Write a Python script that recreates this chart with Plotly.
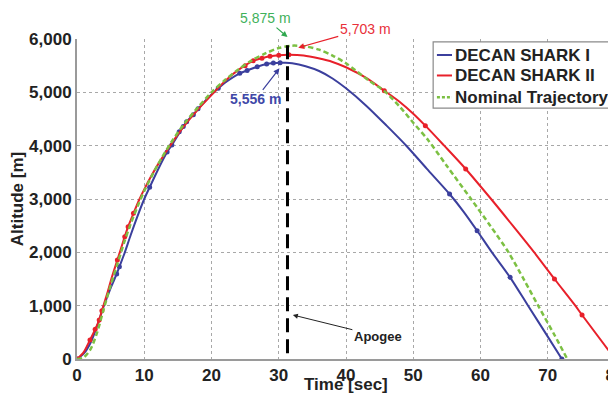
import plotly.graph_objects as go

# ---- data ----
s1_t   = [0, 1, 2, 3, 4, 5, 5.9, 6.3, 7, 8, 9, 10, 10.8, 12, 13.4, 14.1, 16.3, 17.3, 18, 20, 21, 22, 24.2, 25.3, 26.8, 28.2, 29.2, 30.2, 31, 32, 34, 36, 38, 40, 43, 46, 49, 52, 55.4, 57.5, 59.5, 61.7, 64.4, 67.1, 70, 72.1]
s1_alt = [0, 100, 300, 620, 1000, 1330, 1594, 1731, 1960, 2330, 2680, 3000, 3219, 3540, 3881, 4012, 4450, 4580, 4690, 4960, 5075, 5180, 5357, 5410, 5481, 5531, 5548, 5556, 5555, 5545, 5490, 5400, 5260, 5075, 4750, 4380, 3994, 3570, 3094, 2760, 2405, 2000, 1531, 994, 420, 0]
s1_mark_t   = [0, 5.9, 6.3, 10.8, 13.4, 14.1, 15.2, 15.8, 16.3, 17.3, 18, 21, 24.2, 25.3, 26.8, 28.2, 29.2, 30.2, 55.4, 59.5, 64.4, 72.1]
s1_mark_alt = [0, 1594, 1731, 3219, 3881, 4012, 4260, 4360, 4450, 4580, 4690, 5075, 5357, 5410, 5481, 5531, 5548, 5556, 3094, 2405, 1531, 0]

s2_t   = [0, 1, 1.93, 2.7, 3.3, 3.7, 4.5, 5.2, 6, 7.1, 7.6, 8.4, 9.3, 10, 11, 12, 13, 14, 16, 18, 20.3, 22, 24, 26.2, 27.5, 28.7, 30, 31.5, 33.7, 35.9, 38, 40, 43, 45.7, 48, 50, 51.8, 54.6, 57.8, 61.7, 64.8, 67.9, 71, 74.1, 75.1, 80]
s2_alt = [0, 130, 356, 556, 730, 906, 1230, 1540, 1856, 2294, 2481, 2731, 3000, 3180, 3420, 3640, 3840, 4030, 4380, 4680, 4990, 5210, 5420, 5590, 5640, 5675, 5695, 5703, 5690, 5638, 5570, 5470, 5270, 5031, 4820, 4600, 4375, 4000, 3563, 2981, 2500, 2012, 1500, 1000, 825, 0]
s2_mark_t   = [0, 1.93, 2.7, 3.3, 3.7, 6, 7.1, 7.6, 8.4, 25.0, 26.2, 27.5, 28.7, 30, 31.5, 45.7, 51.8, 57.8, 71, 75.1]
s2_mark_alt = [0, 356, 556, 730, 906, 1856, 2294, 2481, 2731, 5500, 5590, 5640, 5675, 5695, 5703, 5031, 4375, 3563, 1500, 825]

nom_t   = [0, 1, 2, 3, 4, 5, 6, 7, 8, 9, 10, 12, 14, 16, 18, 20, 22, 24, 26, 28, 30, 32, 34, 36, 38, 40, 43.3, 45.8, 48, 50, 52.2, 55, 58.7, 61.5, 64.1, 66.5, 68.6, 71, 72.9]
nom_alt = [0, 30, 180, 500, 950, 1380, 1780, 2180, 2540, 2860, 3150, 3640, 4060, 4420, 4720, 5000, 5230, 5430, 5600, 5730, 5830, 5875, 5860, 5800, 5690, 5544, 5231, 5013, 4730, 4430, 4106, 3620, 2981, 2490, 2012, 1480, 994, 450, 0]

apogee_t = 31.3
apogee_line_alt = [110, 5990]

series_names = ["DECAN SHARK I", "DECAN SHARK II", "Nominal Trajectory"]

x_ticks = [0, 10, 20, 30, 40, 50, 60, 70, 80]
y_ticks = [0, 1000, 2000, 3000, 4000, 5000, 6000]

BLUE = "#3b3f9d"
RED = "#e8202a"
GREEN = "#7cc043"
FONT = "Liberation Sans, Arial, sans-serif"
TXT = "#222222"

fig = go.Figure()

fig.add_trace(go.Scatter(x=s1_t, y=s1_alt, mode="lines", name=series_names[0], showlegend=False,
                         line=dict(color=BLUE, width=2, shape="spline", smoothing=0.8)))
fig.add_trace(go.Scatter(x=s1_mark_t, y=s1_mark_alt, mode="markers", showlegend=False,
                         marker=dict(color=BLUE, size=5)))
fig.add_trace(go.Scatter(x=s2_t, y=s2_alt, mode="lines", name=series_names[1], showlegend=False,
                         line=dict(color=RED, width=2, shape="spline", smoothing=0.8)))
fig.add_trace(go.Scatter(x=s2_mark_t, y=s2_mark_alt, mode="markers", showlegend=False,
                         marker=dict(color=RED, size=5)))
fig.add_trace(go.Scatter(x=nom_t, y=nom_alt, mode="lines", name=series_names[2], showlegend=False,
                         line=dict(color=GREEN, width=2.5, dash="5px,3px", shape="spline", smoothing=0.8)))
fig.add_trace(go.Scatter(x=[apogee_t, apogee_t], y=apogee_line_alt, mode="lines", showlegend=False,
                         line=dict(color="black", width=3, dash="14px,7px")))

# annotations
fig.add_annotation(x=apogee_t, y=1.006, xref="x", yref="paper", text="5,875 m",
                   showarrow=True, ax=-22, ay=-19, arrowhead=2, arrowsize=1, arrowwidth=1.2,
                   arrowcolor="#2fa84f", font=dict(family=FONT, size=14, color="#3fb15a"))
fig.add_annotation(x=32.9, y=5837, text="5,703 m",
                   showarrow=True, ax=67, ay=-19, arrowhead=2, arrowsize=1, arrowwidth=1.2,
                   arrowcolor=RED, font=dict(family=FONT, size=14, color="#e8303a"))
fig.add_annotation(x=30.1, y=5450, text="<b>5,556 m</b>",
                   showarrow=True, ax=-24, ay=31, arrowhead=2, arrowsize=1, arrowwidth=1.2,
                   arrowcolor=BLUE, font=dict(family=FONT, size=14, color="#3f48a8"))
fig.add_annotation(x=32.1, y=825, text="<b>Apogee</b>",
                   showarrow=True, ax=85, ay=21, arrowhead=2, arrowsize=1, arrowwidth=1,
                   arrowcolor=TXT, font=dict(family=FONT, size=13, color=TXT))

# x-axis title (placed as text just under the tick labels, as in the reference)
fig.add_annotation(x=0.5, y=-0.081, xref="paper", yref="paper", text="<b>Time [sec]</b>",
                   showarrow=False, xanchor="center", yanchor="middle", borderpad=0,
                   font=dict(family=FONT, size=17, color=TXT))

# compact legend box (short line samples as in the reference)
leg_x0, leg_x1, leg_y0, leg_y1 = 0.662, 1.0, 0.784, 0.991
fig.add_shape(type="rect", xref="paper", yref="paper", x0=leg_x0, x1=leg_x1, y0=leg_y0, y1=leg_y1,
              line=dict(color="#8a8a8a", width=1.2), fillcolor="white", layer="above")
leg_rows = [0.950, 0.886, 0.818]
leg_styles = [dict(color=BLUE, width=2), dict(color=RED, width=2), dict(color=GREEN, width=2.5, dash="3px,2px")]
for name, yy, st in zip(series_names, leg_rows, leg_styles):
    fig.add_shape(type="line", xref="paper", yref="paper", x0=0.669, x1=0.697, y0=yy, y1=yy,
                  line=st, layer="above")
    fig.add_annotation(x=0.699, y=yy, xref="paper", yref="paper", text="<b>%s</b>" % name,
                       showarrow=False, xanchor="left", yanchor="middle",
                       font=dict(family=FONT, size=17, color=TXT))

axis_common = dict(
    showgrid=True, gridcolor="#a8a8a8", gridwidth=1, griddash="dot",
    showline=True, linecolor="#9a9a9a", linewidth=2, zeroline=False, automargin=False,
    ticks="", tickfont=dict(family=FONT, size=17, color=TXT, weight="bold"),
    ticklabeloverflow="allow",
)
fig.update_xaxes(range=[0, 80], tickvals=x_ticks, ticktext=[str(v) for v in x_ticks], **axis_common)
fig.update_yaxes(range=[0, 6000], tickvals=y_ticks, tickformat=",",
                 title=dict(text="Altitude [m]", font=dict(family=FONT, size=17, color=TXT, weight="bold"), standoff=4),
                 **axis_common)

# the page body has an 8px margin, so the figure is sized to fill the rest of the window
fig.update_layout(
    width=608, height=387,
    margin=dict(l=69, r=1, t=31, b=36),
    plot_bgcolor="white", paper_bgcolor="white",
    font=dict(family=FONT),
    showlegend=False,
)

fig.write_html("out.html")
